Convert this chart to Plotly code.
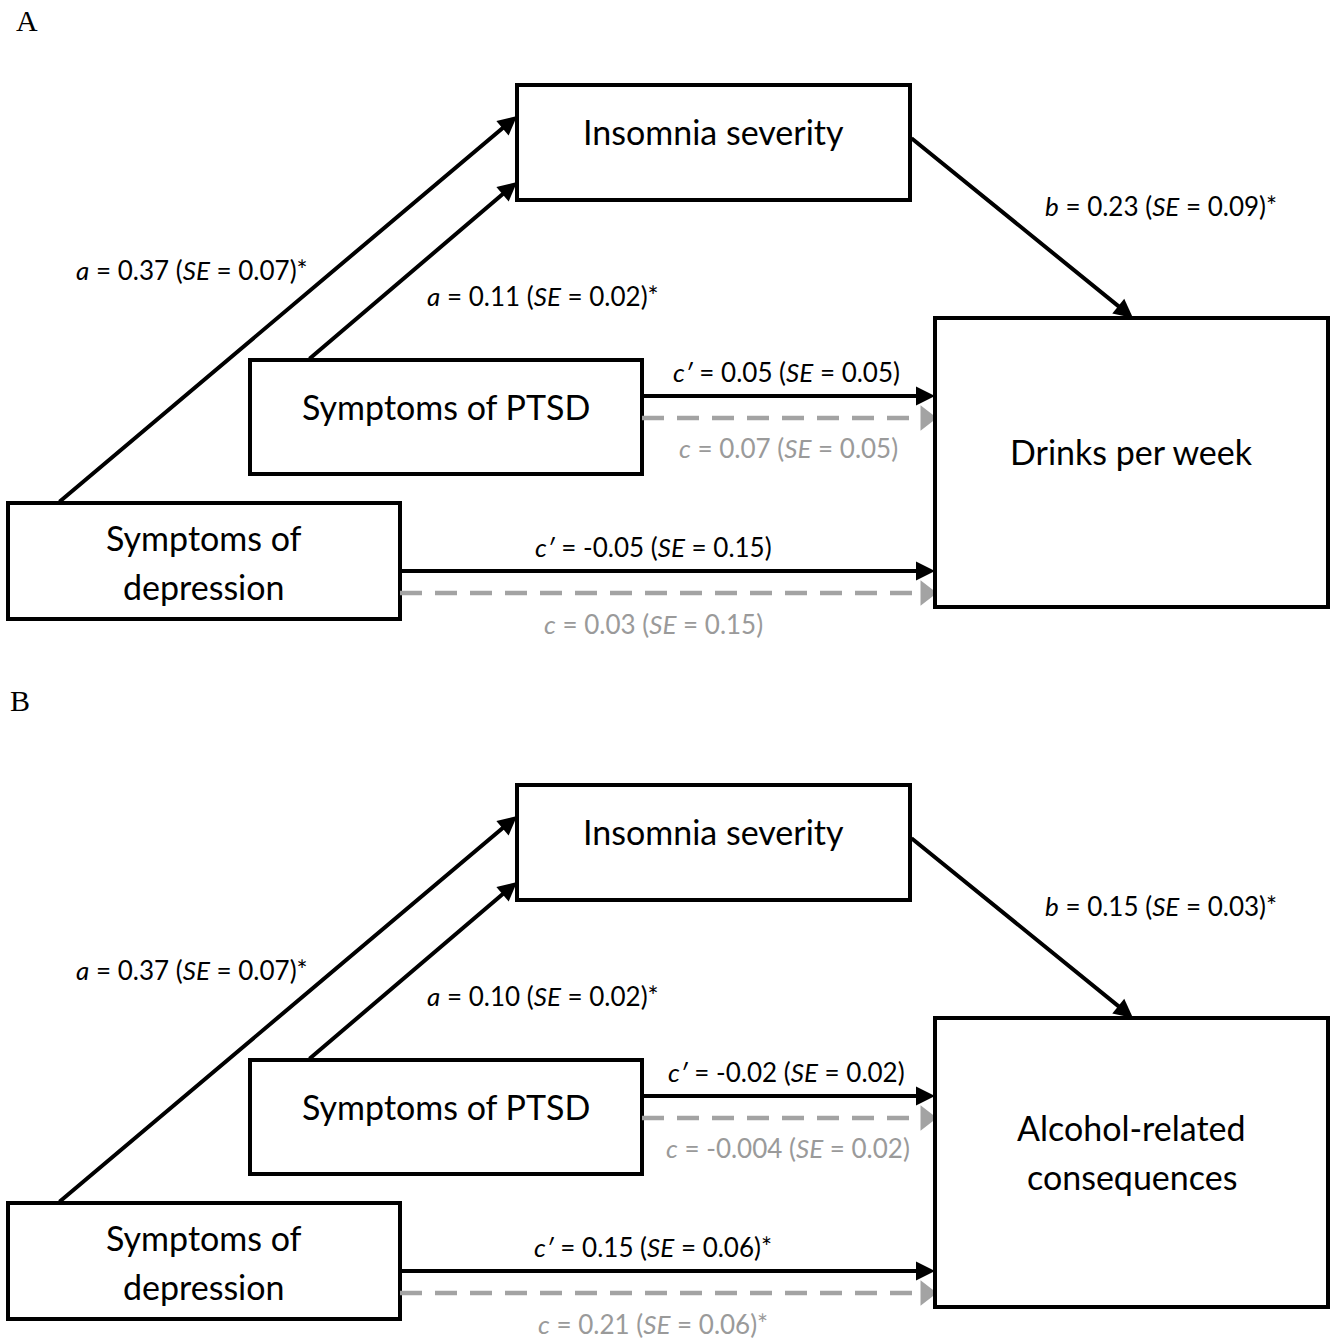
import plotly.graph_objects as go

# ---------------- data ----------------
panels = ["A", "B"]
outcomes = ["Drinks per week", "Alcohol-related<br>consequences"]
predictor_dep = "Symptoms of<br>depression"
predictor_ptsd = "Symptoms of PTSD"
mediator = "Insomnia severity"

a_dep = [0.37, 0.37]
a_dep_se = [0.07, 0.07]
a_dep_sig = [True, True]

a_ptsd = [0.11, 0.10]
a_ptsd_se = [0.02, 0.02]
a_ptsd_sig = [True, True]

b_path = [0.23, 0.15]
b_path_se = [0.09, 0.03]
b_path_sig = [True, True]

cp_ptsd = [0.05, -0.02]
cp_ptsd_se = [0.05, 0.02]
cp_ptsd_sig = [False, False]

c_ptsd = [0.07, -0.004]
c_ptsd_se = [0.05, 0.02]
c_ptsd_sig = [False, False]

cp_dep = [-0.05, 0.15]
cp_dep_se = [0.15, 0.06]
cp_dep_sig = [False, True]

c_dep = [0.03, 0.21]
c_dep_se = [0.15, 0.06]
c_dep_sig = [False, True]

# ---------------- styling / layout ----------------
W, H = 1339, 1341
BLACK = "#000000"
GRAY = "#a3a3a3"
GRAY_TXT = "#9a9a9a"
FAMILY = "Lato, Open Sans, sans-serif"
NODE_SIZE = 34
LBL_SIZE = 26
LW = 4
LINE_GAP = 49
PANEL_DY = [0, 700]
LETTER_POS = [(14, 20), (8, 700)]

# box geometry (panel A coordinates) + vertical text offset
BOX_MED = (517, 85, 910, 200, -11)
BOX_OUT = (935, 318, 1328, 607, -11)
BOX_PTSD = (250, 360, 642, 474, -11)
BOX_DEP = (8, 503, 400, 619, 1)


def fmt(v):
    return f"{v:.3f}" if round(v, 2) != v else f"{v:.2f}"


def lbl(sym, v, se, sig):
    return f"<i>{sym}</i> = {fmt(v)} (<i>SE</i> = {fmt(se)})" + ("*" if sig else "")


fig = go.Figure()
shapes = []
annotations = []
tri_x, tri_y = [], []


def box(b, dy, text):
    x0, y0, x1, y1, tdy = b
    shapes.append(dict(type="rect", xref="x", yref="y", x0=x0, x1=x1, y0=y0 + dy, y1=y1 + dy,
                       line=dict(color=BLACK, width=LW), fillcolor="rgba(0,0,0,0)"))
    lines = text.split("<br>")
    cy = (y0 + y1) / 2 + dy + tdy
    n = len(lines)
    for k, t in enumerate(lines):
        annotations.append(dict(x=(x0 + x1) / 2, y=cy + (k - (n - 1) / 2) * LINE_GAP, xref="x", yref="y",
                                text=t, showarrow=False, yanchor="middle",
                                font=dict(family=FAMILY, size=NODE_SIZE, color=BLACK)))


def solid_arrow(x0, y0, x1, y1):
    annotations.append(dict(x=x1, y=y1, ax=x0, ay=y0, xref="x", yref="y", axref="x", ayref="y",
                            text="", showarrow=True, arrowhead=2, arrowsize=0.95, arrowwidth=LW,
                            arrowcolor=BLACK, standoff=0, startstandoff=0))


def dashed_arrow(x0, y0, x1, y1):
    shapes.append(dict(type="line", xref="x", yref="y", x0=x0, y0=y0, x1=x1 - 18, y1=y1,
                       line=dict(color=GRAY, width=LW + 0.5, dash="22px,13px")))
    tri_x.append(x1 - 9)
    tri_y.append(y1)


def label(x, y, text, color=BLACK):
    annotations.append(dict(x=x, y=y, xref="x", yref="y", text=text, showarrow=False,
                            font=dict(family=FAMILY, size=LBL_SIZE, color=color)))


for i, p in enumerate(panels):
    dy = PANEL_DY[i]
    lx, ly = LETTER_POS[i]
    annotations.append(dict(x=lx, y=ly, xref="x", yref="y", text=p, showarrow=False,
                            xanchor="left", font=dict(family="Liberation Serif, serif", size=30, color=BLACK)))
    box(BOX_MED, dy, mediator)
    box(BOX_OUT, dy, outcomes[i])
    box(BOX_PTSD, dy, predictor_ptsd)
    box(BOX_DEP, dy, predictor_dep)

    # a paths
    solid_arrow(58, BOX_DEP[1] + dy, BOX_MED[0], 116 + dy)
    solid_arrow(308, BOX_PTSD[1] + dy, BOX_MED[0], 182 + dy)
    # b path
    solid_arrow(BOX_MED[2], 137 + dy, 1133, BOX_OUT[1] + dy)
    # direct paths
    solid_arrow(BOX_PTSD[2], 396 + dy, BOX_OUT[0], 396 + dy)
    dashed_arrow(BOX_PTSD[2], 418 + dy, BOX_OUT[0], 418 + dy)
    solid_arrow(BOX_DEP[2], 571 + dy, BOX_OUT[0], 571 + dy)
    dashed_arrow(BOX_DEP[2], 593 + dy, BOX_OUT[0], 593 + dy)

    label(192, 270 + dy, lbl("a", a_dep[i], a_dep_se[i], a_dep_sig[i]))
    label(543, 296 + dy, lbl("a", a_ptsd[i], a_ptsd_se[i], a_ptsd_sig[i]))
    label(1161, 206 + dy, lbl("b", b_path[i], b_path_se[i], b_path_sig[i]))
    label(786, 372 + dy, lbl("c′", cp_ptsd[i], cp_ptsd_se[i], cp_ptsd_sig[i]))
    label(788, 448 + dy, lbl("c", c_ptsd[i], c_ptsd_se[i], c_ptsd_sig[i]), GRAY_TXT)
    label(653, 547 + dy, lbl("c′", cp_dep[i], cp_dep_se[i], cp_dep_sig[i]))
    label(653, 624 + dy, lbl("c", c_dep[i], c_dep_se[i], c_dep_sig[i]), GRAY_TXT)

# gray arrowheads for the dashed (total effect) paths
fig.add_trace(go.Scatter(x=tri_x, y=tri_y, mode="markers", hoverinfo="skip", cliponaxis=False,
                         marker=dict(symbol="triangle-right", size=22, color=GRAY, line=dict(width=0))))

fig.update_layout(
    width=W, height=H, margin=dict(l=0, r=0, t=0, b=0),
    paper_bgcolor="white", plot_bgcolor="white",
    xaxis=dict(range=[0, W], visible=False, fixedrange=True),
    yaxis=dict(range=[H, 0], visible=False, fixedrange=True),
    shapes=shapes, annotations=annotations, showlegend=False,
)
fig.write_html("out.html", config={"displayModeBar": False},
               post_script="document.body.style.margin='0';document.body.style.overflow='hidden';")
